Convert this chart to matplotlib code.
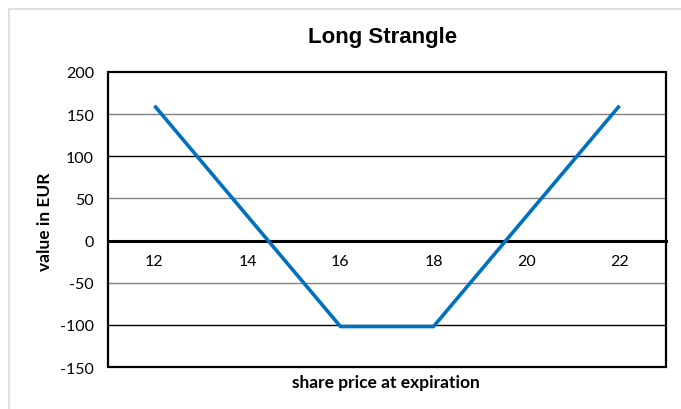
import matplotlib
matplotlib.use("Agg")
import matplotlib.pyplot as plt
from matplotlib.patches import Rectangle

# payoff of the long strangle
price = [12, 16, 18, 22]
value = [160, -102, -102, 160]
xticks = [12, 14, 16, 18, 20, 22]
yticks = [-150, -100, -50, 0, 50, 100, 150, 200]

plt.rcParams["axes.unicode_minus"] = False

W, H = 681, 410
fig = plt.figure(figsize=(W / 100, H / 100), dpi=100)
fig.patches.append(Rectangle((9 / W, -0.1), 1.2, 1 - 10 / H + 0.1, transform=fig.transFigure,
                             fill=False, edgecolor="#d9d9d9", lw=1.2))

ax = fig.add_axes([108 / W, (H - 368) / H, (666 - 108) / W, (368 - 73) / H])
ax.set_xlim(11, 23); ax.set_ylim(-150, 200)

for y in yticks[1:-1]:
    if y == 0:
        continue
    c = "black" if abs(y) == 100 else "#808080"
    ax.axhline(y, color=c, lw=1.0, zorder=1)

ax.plot(price, value, color="#0070c0", lw=2.6, zorder=3, solid_capstyle="butt")

for s in ("top", "left", "right"):
    ax.spines[s].set_linewidth(1.3)
ax.spines["bottom"].set_position(("data", 0))
ax.spines["bottom"].set_linewidth(2.2)
ax.add_patch(Rectangle((0, 0), 1, 1, transform=ax.transAxes, fill=False,
                       edgecolor="black", lw=1.6, zorder=5, clip_on=False))

ax.set_xticks(xticks); ax.set_yticks(yticks)
ax.tick_params(axis="x", length=0, pad=10, labelsize=11.5)
ax.tick_params(axis="y", length=0, pad=10, labelsize=11.5)
for lab in ax.get_xticklabels() + ax.get_yticklabels():
    lab.set_family("Lato")

fig.text(383 / W, 1 - 38 / H, "Long Strangle", ha="center", va="center",
         fontsize=16, fontweight="bold", family="Liberation Sans")
fig.text(386 / W, 1 - 383 / H, "share price at expiration", ha="center", va="center",
         fontsize=12.5, fontweight="bold", family="Lato")
fig.text(45 / W, 1 - 222 / H, "value in EUR", ha="center", va="center", rotation=90,
         fontsize=12.5, fontweight="bold", family="Lato")

fig.savefig("out.png", dpi=100)
